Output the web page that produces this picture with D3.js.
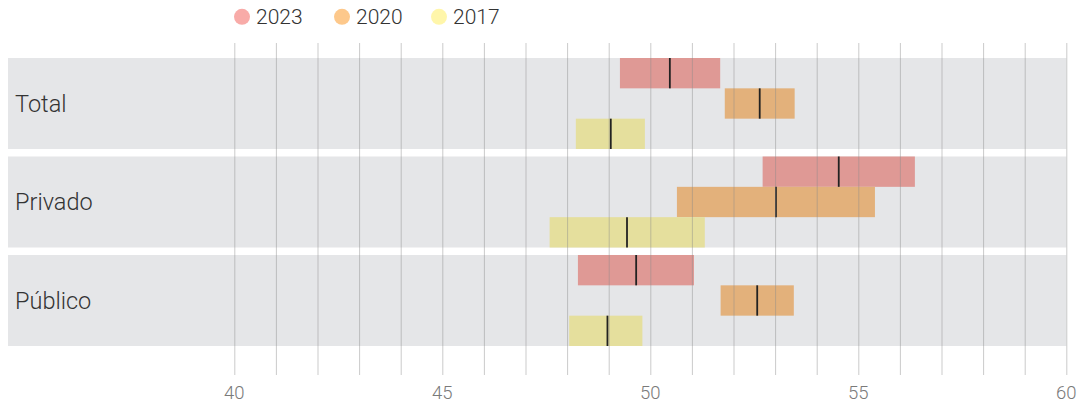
<!DOCTYPE html>
<html>
<head>
<meta charset="utf-8">
<script src="https://cdn.jsdelivr.net/npm/d3@7"></script>
<style>
  body { margin: 0; background: #fff; font-family: Roboto, sans-serif; }
</style>
</head>
<body>
<div id="chart"></div>
<script>
const width = 1084
const height = 404

const groups = ['Total', 'Privado', 'Público']
const years = ['2023', '2020', '2017']
const colors = { '2023': '#df9995', '2020': '#e3b17b', '2017': '#e5df9d' }
const legendColors = { '2023': '#f8aba8', '2020': '#fdc88b', '2017': '#fff6aa' }

// [low, median, high] per group
const v2023 = [[49.27, 50.47, 51.68], [52.70, 54.53, 56.36], [48.26, 49.66, 51.05]]
const v2020 = [[51.79, 52.63, 53.47], [50.64, 53.02, 55.40], [51.69, 52.57, 53.45]]
const v2017 = [[48.21, 49.05, 49.87], [47.58, 49.44, 51.31], [48.05, 48.97, 49.81]]
const ticks = d3.range(40, 61, 1)
const labelTicks = [40, 45, 50, 55, 60]

const series = { '2023': v2023, '2020': v2020, '2017': v2017 }

const x = d3.scaleLinear()
  .domain([40, 60])
  .range([234.3, 1066.3])

const y0 = d3.scaleBand()
  .domain(groups)
  .range([58, 346])
  .paddingInner(0.076)
  .paddingOuter(0)

const y1 = d3.scaleBand()
  .domain(years)
  .range([0, y0.bandwidth()])

const svg = d3.select('#chart').append('svg')
  .attr('width', width)
  .attr('height', height)

// background bands
svg.append('g')
  .selectAll('rect')
  .data(groups).enter()
  .append('rect')
  .attr('x', 8)
  .attr('y', d => y0(d))
  .attr('width', x(60) - 8)
  .attr('height', y0.bandwidth())
  .attr('fill', '#e5e6e8')

// bars
const g = svg.append('g')
  .selectAll('g')
  .data(groups).enter()
  .append('g')
  .attr('transform', d => `translate(0,${y0(d)})`)

g.selectAll('rect')
  .data((d, i) => years.map(key => ({ key, value: series[key][i] })))
  .enter().append('rect')
  .attr('x', d => x(d.value[0]))
  .attr('y', d => y1(d.key))
  .attr('width', d => x(d.value[2]) - x(d.value[0]))
  .attr('height', y1.bandwidth())
  .attr('fill', d => colors[d.key])

// grid
svg.append('g')
  .selectAll('line')
  .data(ticks).enter()
  .append('line')
  .attr('x1', d => x(d) + 0.5)
  .attr('x2', d => x(d) + 0.5)
  .attr('y1', 43)
  .attr('y2', 375)
  .attr('stroke', '#8a8a8a')
  .attr('stroke-opacity', 0.45)
  .attr('stroke-width', 1)

// medians
g.selectAll('line')
  .data((d, i) => years.map(key => ({ key, value: series[key][i] })))
  .enter().append('line')
  .attr('x1', d => x(d.value[1]))
  .attr('x2', d => x(d.value[1]))
  .attr('y1', d => y1(d.key))
  .attr('y2', d => y1(d.key) + y1.bandwidth())
  .attr('stroke', '#222')
  .attr('stroke-width', 1.8)

// group labels
svg.append('g')
  .selectAll('text')
  .data(groups).enter()
  .append('text')
  .attr('x', 15)
  .attr('y', d => y0(d) + y0.bandwidth() / 2)
  .attr('dy', '0.35em')
  .attr('font-size', 23.5)
  .attr('font-weight', 300)
  .attr('fill', '#333')
  .text(d => d)

// axis labels
svg.append('g')
  .selectAll('text')
  .data(labelTicks).enter()
  .append('text')
  .attr('x', d => x(d))
  .attr('y', 399)
  .attr('text-anchor', 'middle')
  .attr('font-size', 18.5)
  .attr('font-weight', 300)
  .attr('fill', '#7a7a7a')
  .text(d => d)

// legend
const legendX = [242, 342, 439]
const lg = svg.append('g')
  .selectAll('g')
  .data(years).enter()
  .append('g')
  .attr('transform', (d, i) => `translate(${legendX[i]},16.8)`)

lg.append('circle')
  .attr('r', 8)
  .attr('fill', d => legendColors[d])

lg.append('text')
  .attr('x', 14)
  .attr('dy', '0.35em')
  .attr('font-size', 21)
  .attr('font-weight', 300)
  .attr('fill', '#333')
  .text(d => d)
</script>
</body>
</html>
